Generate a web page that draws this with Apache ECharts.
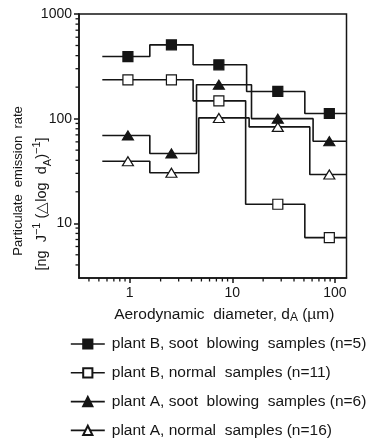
<!DOCTYPE html>
<html>
<head>
<meta charset="utf-8">
<script src="https://cdn.jsdelivr.net/npm/echarts@6/dist/echarts.min.js"></script>
<style>html,body{margin:0;padding:0;background:#fff}#c{width:374px;height:439px}</style>
</head>
<body>
<div id="c"></div>
<script>
// ---- data ----
const xMarkers = [0.96, 2.55, 7.4, 27.8, 88.4];           // bin mid-points (µm)
const edgesBSoot = [0.54, 1.57, 4.15, 13.8, 51, 130];
const valsBSoot  = [392, 507, 327, 182, 112];
const edgesBNorm = [0.54, 1.57, 4.15, 13.5, 51, 130];
const valsBNorm  = [235, 235, 148, 15.2, 7.3];
const edgesASoot = [0.54, 1.57, 4.48, 15.4, 61.4, 130];
const valsASoot  = [69, 46.4, 211, 100, 60.8];
const edgesANorm = [0.54, 1.57, 4.71, 14.6, 57, 130];
const valsANorm  = [39.2, 30.4, 101.6, 83.4, 29.3];
const seriesNames = [
  'plant B, soot  blowing  samples (n=5)',
  'plant B, normal  samples (n=11)',
  'plant A, soot  blowing  samples (n=6)',
  'plant A, normal  samples (n=16)'
];
const xMajorLabels = [1, 10, 100];
const yMajorLabels = [10, 100, 1000];
const xMinorTicks = [0.4,0.5,0.6,0.7,0.8,0.9,2,3,4,5,6,7,8,9,20,30,40,50,60,70,80,90];
const yMinorTicks = [4,5,6,7,8,9,20,30,40,50,60,70,80,90,200,300,400,500,600,700,800,900];
const xMin = 0.32, xMax = 130, yMin = 3, yMax = 1000;

const INK = '#151515';
const FONT = '"Liberation Sans", Arial, Helvetica, sans-serif';

function stepData(edges, vals) {
  return edges.map((e, i) => [e, vals[Math.min(i, vals.length - 1)]]);
}
function markerData(vals) {
  return xMarkers.map((x, i) => [x, vals[i]]);
}

const sets = [
  {edges: edgesBSoot, vals: valsBSoot, symbol: 'rect', size: 10, fill: INK},
  {edges: edgesBNorm, vals: valsBNorm, symbol: 'rect', size: 10, fill: '#fff'},
  {edges: edgesASoot, vals: valsASoot, symbol: 'triangle', size: [11, 9], fill: INK},
  {edges: edgesANorm, vals: valsANorm, symbol: 'triangle', size: [11, 9], fill: '#fff'}
];

const series = [];
sets.forEach((s, i) => {
  series.push({
    type: 'line', name: 'step' + i, step: 'end', symbol: 'none', silent: true,
    data: stepData(s.edges, s.vals),
    lineStyle: {color: INK, width: 1.6}, z: 2
  });
});
sets.forEach((s, i) => {
  series.push({
    type: 'line', name: seriesNames[i], symbol: s.symbol, symbolSize: s.size, showSymbol: true,
    data: markerData(s.vals),
    lineStyle: {opacity: 0, width: 0},
    itemStyle: {color: s.fill, borderColor: INK, borderWidth: 1.2},
    z: 5
  });
});
// minor ticks drawn through the axes' scales
series.push({
  type: 'custom', silent: true, clip: false, z: 6,
  data: xMinorTicks.map(v => [v, yMin]),
  renderItem: function (params, api) {
    const p = api.coord([api.value(0), api.value(1)]);
    return {type: 'line', shape: {x1: p[0], y1: p[1], x2: p[0], y2: p[1] + 3.5},
            style: {stroke: INK, lineWidth: 1.3}};
  }
});
series.push({
  type: 'custom', silent: true, clip: false, z: 6,
  data: yMinorTicks.map(v => [xMin, v]),
  renderItem: function (params, api) {
    const p = api.coord([api.value(0), api.value(1)]);
    return {type: 'line', shape: {x1: p[0] - 3.5, y1: p[1], x2: p[0], y2: p[1]},
            style: {stroke: INK, lineWidth: 1.3}};
  }
});

const chart = echarts.init(document.getElementById('c'), null, {renderer: 'canvas'});
chart.setOption({
  animation: false,
  backgroundColor: '#fff',
  textStyle: {fontFamily: FONT, color: INK},
  grid: {left: 79, right: 27.5, top: 14, bottom: 161, show: true, borderColor: INK, borderWidth: 1.5, backgroundColor: 'transparent'},
  xAxis: {
    type: 'log', logBase: 10, min: xMin, max: xMax,
    axisLine: {show: true, lineStyle: {color: INK, width: 1.5}},
    axisTick: {show: true, length: 5, lineStyle: {color: INK, width: 1.5}},
    splitLine: {show: false},
    axisLabel: {
      show: true, margin: 8, fontSize: 14, color: INK, fontFamily: FONT,
      showMinLabel: false, showMaxLabel: false,
      formatter: v => xMajorLabels.some(m => Math.abs(m - v) < 1e-6 * m) ? String(Math.round(v)) : ''
    },
    name: 'Aerodynamic  diameter, d{sub|A} (µm)',
    nameLocation: 'middle', nameGap: 28,
    nameTextStyle: {fontSize: 15.5, color: INK, fontFamily: FONT, padding: [0, 0, 0, 23],
      rich: {sub: {fontSize: 12, verticalAlign: 'bottom', padding: [6, 0, 0, 0], fontFamily: FONT, color: INK}}}
  },
  yAxis: {
    type: 'log', logBase: 10, min: yMin, max: yMax,
    axisLine: {show: true, lineStyle: {color: INK, width: 1.5}},
    axisTick: {show: true, length: 5, lineStyle: {color: INK, width: 1.5}},
    splitLine: {show: false},
    axisLabel: {
      show: true, margin: 7, fontSize: 14, color: INK, fontFamily: FONT,
      showMinLabel: false,
      formatter: v => yMajorLabels.some(m => Math.abs(m - v) < 1e-6 * m) ? String(Math.round(v)) : ''
    }
  },
  legend: {
    orient: 'vertical', left: 70, top: 336, padding: 0,
    itemWidth: 34, itemHeight: 11.5, itemGap: 12.8,
    data: seriesNames,
    textStyle: {fontSize: 15.5, color: INK, fontFamily: FONT, lineHeight: 16, padding: [0, 0, 0, 2]},
    lineStyle: {color: INK, width: 1.6, opacity: 1, type: 'solid'},
    selectedMode: false
  },
  graphic: [
    {type: 'text', x: 18, y: 181, rotation: Math.PI / 2, silent: true,
     style: {text: 'Particulate  emission  rate', fill: INK, font: '13px ' + FONT, align: 'center', verticalAlign: 'middle'}},
    {type: 'text', x: 42, y: 204, rotation: Math.PI / 2, silent: true,
     style: {text: '[ng  J{sup|−1} (△log  d{sub|A}){sup|−1}]', fill: INK, font: '14.5px ' + FONT,
       align: 'center', verticalAlign: 'middle', lineHeight: 22,
       rich: {
         sup: {fontSize: 11, verticalAlign: 'top', lineHeight: 13, fontFamily: FONT, fill: INK},
         sub: {fontSize: 11, verticalAlign: 'bottom', lineHeight: 13, fontFamily: FONT, fill: INK}
       }}}
  ],
  series: series
});
</script>
</body>
</html>
